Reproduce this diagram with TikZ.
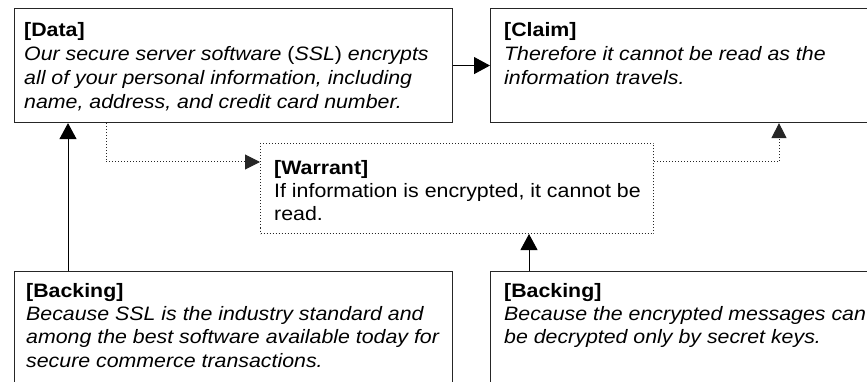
\documentclass[tikz,border=0pt]{standalone}
\usepackage{fontspec}
\setmainfont[FakeStretch=1.1]{Liberation Sans}
\usetikzlibrary{arrows.meta}
\begin{document}
\begin{tikzpicture}[x=1pt,y=-1pt,
  font=\fontsize{19.4}{23.5}\selectfont,
  box/.style={draw=black!85, line width=1.1pt, rectangle, inner sep=0pt, anchor=north west},
  dotbox/.style={draw=black!85, line width=1pt, dotted, rectangle, inner sep=0pt, anchor=north west},
  arr/.style={draw=black, line width=1pt, -{Triangle[length=16pt,width=17pt]}},
  dotarr/.style={draw=black!85, line width=1pt, dotted, -{Triangle[length=15pt,width=15pt]}},
  txt/.style={anchor=base west, inner sep=0pt, text=black},
  hd/.style={txt, font=\fontsize{19.4}{23.5}\selectfont\bfseries},
  it/.style={txt, font=\fontsize{19.4}{23.5}\selectfont\itshape}]
\clip (0,0) rectangle (867,382);
\fill[white] (0,0) rectangle (867,382);
% boxes
\node[box, minimum width=438pt, minimum height=114pt] (data) at (14,8) {};
\node[box, minimum width=400pt, minimum height=114pt] (claim) at (490,8) {};
\node[dotbox, minimum width=393pt, minimum height=90pt] (warrant) at (260,143) {};
\node[box, minimum width=438pt, minimum height=140pt] (back1) at (14,271) {};
\node[box, minimum width=400pt, minimum height=140pt] (back2) at (490,271) {};
% texts
\node[hd] (dataH) at (24,37) {[Data]};
\node[it] (data1) at (24,61) {Our secure server software {\upshape(}SSL{\upshape)} encrypts};
\node[it] (data2) at (24,85) {all of your personal information, including};
\node[it] (data3) at (24,109) {name, address, and credit card number.};
\node[hd] (claimH) at (504,37) {[Claim]};
\node[it] (claim1) at (504,61) {Therefore it cannot be read as the};
\node[it] (claim2) at (504,85) {information travels.};
\node[hd] (warH) at (274,175) {[Warrant]};
\node[txt] (war1) at (274,197.5) {If information is encrypted, it cannot be};
\node[txt] (war2) at (274,220) {read.};
\node[hd] (b1H) at (26,297) {[Backing]};
\node[it] (b11) at (26,320) {Because SSL is the industry standard and};
\node[it] (b12) at (26,343.5) {among the best software available today for};
\node[it] (b13) at (26,367) {secure commerce transactions.};
\node[hd] (b2H) at (504,297) {[Backing]};
\node[it] (b21) at (504,320) {Because the encrypted messages can};
\node[it] (b22) at (504,343.5) {be decrypted only by secret keys.};
% connectors
\draw[arr] (data.east) -- (claim.west);
\draw[arr] ([xshift=54pt]back1.north west) -- ([xshift=54pt]data.south west);
\draw[arr] ([xshift=39pt]back2.north west) -- ([xshift=269pt]warrant.south west);
\draw[dotarr] ([xshift=92pt]data.south west) |- ([yshift=-19pt]warrant.north west);
\draw[dotarr] ([yshift=-19pt]warrant.north east) -| ([xshift=289pt]claim.south west);
\end{tikzpicture}
\end{document}
